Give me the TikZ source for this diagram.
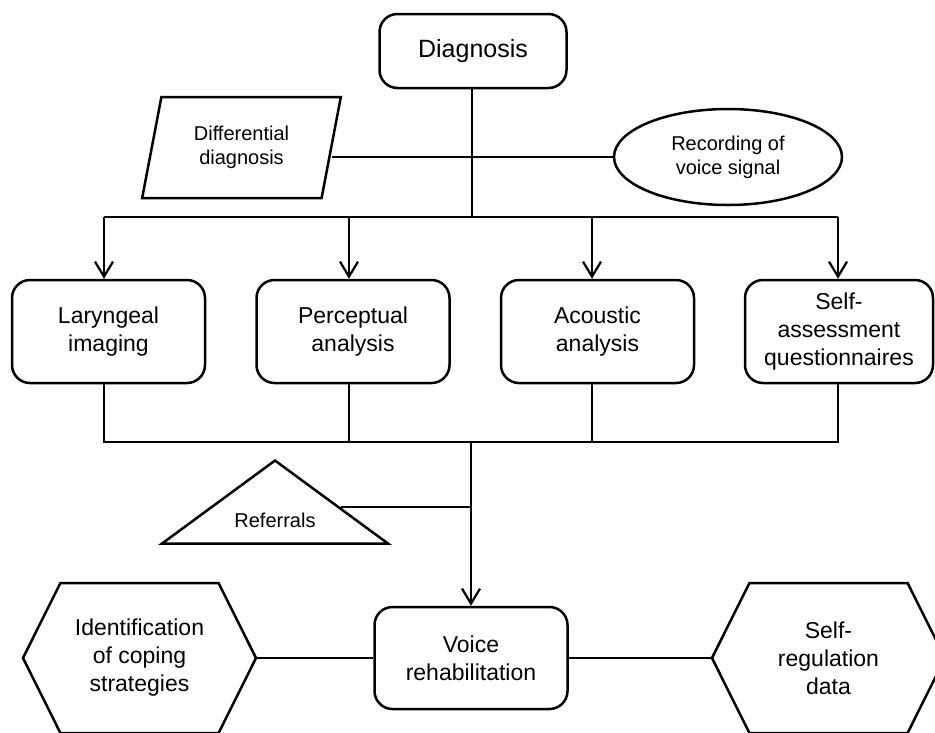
\documentclass[tikz,border=0pt]{standalone}
\usepackage{fontspec}
\setmainfont{Liberation Sans}
\usetikzlibrary{shapes.geometric,shapes.symbols,arrows.meta}
\begin{document}
\begin{tikzpicture}[x=1pt,y=-1pt,
  line/.style={line width=2pt},
  shp/.style={draw, line width=2.5pt, align=center, inner sep=0pt},
  boxtxt/.style={font=\fontsize{23}{28}\selectfont},
  smalltxt/.style={font=\fontsize{20}{24}\selectfont},
  rbox/.style={shp, rounded corners=18pt, minimum width=193pt, minimum height=103pt, boxtxt},
  arr/.style={line, -{Straight Barb[length=15pt,width=18pt,line width=2.2pt]}},
]
\useasboundingbox (0,0) rectangle (935,732);
\clip (0,0) rectangle (935,732);

\node[rbox, minimum width=187pt, minimum height=74pt, font=\fontsize{25}{30}\selectfont] (diag) at (473,51) {Diagnosis};
\node[shp, trapezium, trapezium left angle=75, trapezium right angle=105, trapezium stretches=true, minimum width=199pt, minimum height=101pt, smalltxt] (diff) at (241.5,147.5) {Differential\\diagnosis};
\node[shp, ellipse, minimum width=228pt, minimum height=96pt, smalltxt] (ell) at (728,157) {Recording of\\voice signal};

\node[rbox] (b1) at (108.5,331.5) {Laryngeal\\imaging};
\node[rbox] (b2) at (353,331.5) {Perceptual\\analysis};
\node[rbox] (b3) at (597.5,331.5) {Acoustic\\analysis};
\node[rbox, minimum width=188pt] (b4) at (839,331.5) {Self-\\assessment\\questionnaires};

\node[rbox, minimum width=193pt, minimum height=102pt] (voice) at (471,658) {Voice\\rehabilitation};

\node[draw, line width=2.5pt, isosceles triangle, shape border rotate=90, isosceles triangle stretches, minimum width=226pt, minimum height=83pt, inner sep=0pt] (ref) at (275,506.5) {};
\node[smalltxt] (reftxt) at (275,520) {Referrals};

\node[shp, signal, signal to=west and east, signal pointer angle=127, minimum width=233pt, minimum height=150pt, boxtxt] (hexl) at (139.5,658) {Identification\\of coping\\strategies};
\node[shp, signal, signal to=west and east, signal pointer angle=127, minimum width=233pt, minimum height=150pt, boxtxt] (hexr) at (828.5,658) {Self-\\regulation\\data};

\coordinate (j1) at (472,217);
\coordinate (j2) at (471,442);
\coordinate (t1) at ([xshift=-4.5pt]b1.north);
\coordinate (t2) at ([xshift=-4pt]b2.north);
\coordinate (t3) at ([xshift=-5.5pt]b3.north);
\coordinate (t4) at ([xshift=-1pt]b4.north);
\coordinate (s1) at ([xshift=-4.5pt]b1.south);
\coordinate (s2) at ([xshift=-4pt]b2.south);
\coordinate (s3) at ([xshift=-5.5pt]b3.south);
\coordinate (s4) at ([xshift=-1pt]b4.south);

\draw[line] (diag.south -| j1) -- (j1);
\draw[line] (diff.east |- ell.west) -- (ell.west);
\draw[line] (t1 |- j1) -- (t4 |- j1);
\foreach \t in {t1,t2,t3,t4} {
  \draw[arr] (\t |- j1) -- (\t);
}
\draw[line] (s1) -- (s1 |- j2) -- (s4 |- j2) -- (s4);
\draw[line] (s2) -- (s2 |- j2);
\draw[line] (s3) -- (s3 |- j2);
\draw[arr] (j2) -- (voice.north);
\draw[line] (ref.east) -- (ref.east -| j2);
\draw[line] (hexl.east) -- (voice.west);
\draw[line] (voice.east) -- (hexr.west);
\end{tikzpicture}
\end{document}
